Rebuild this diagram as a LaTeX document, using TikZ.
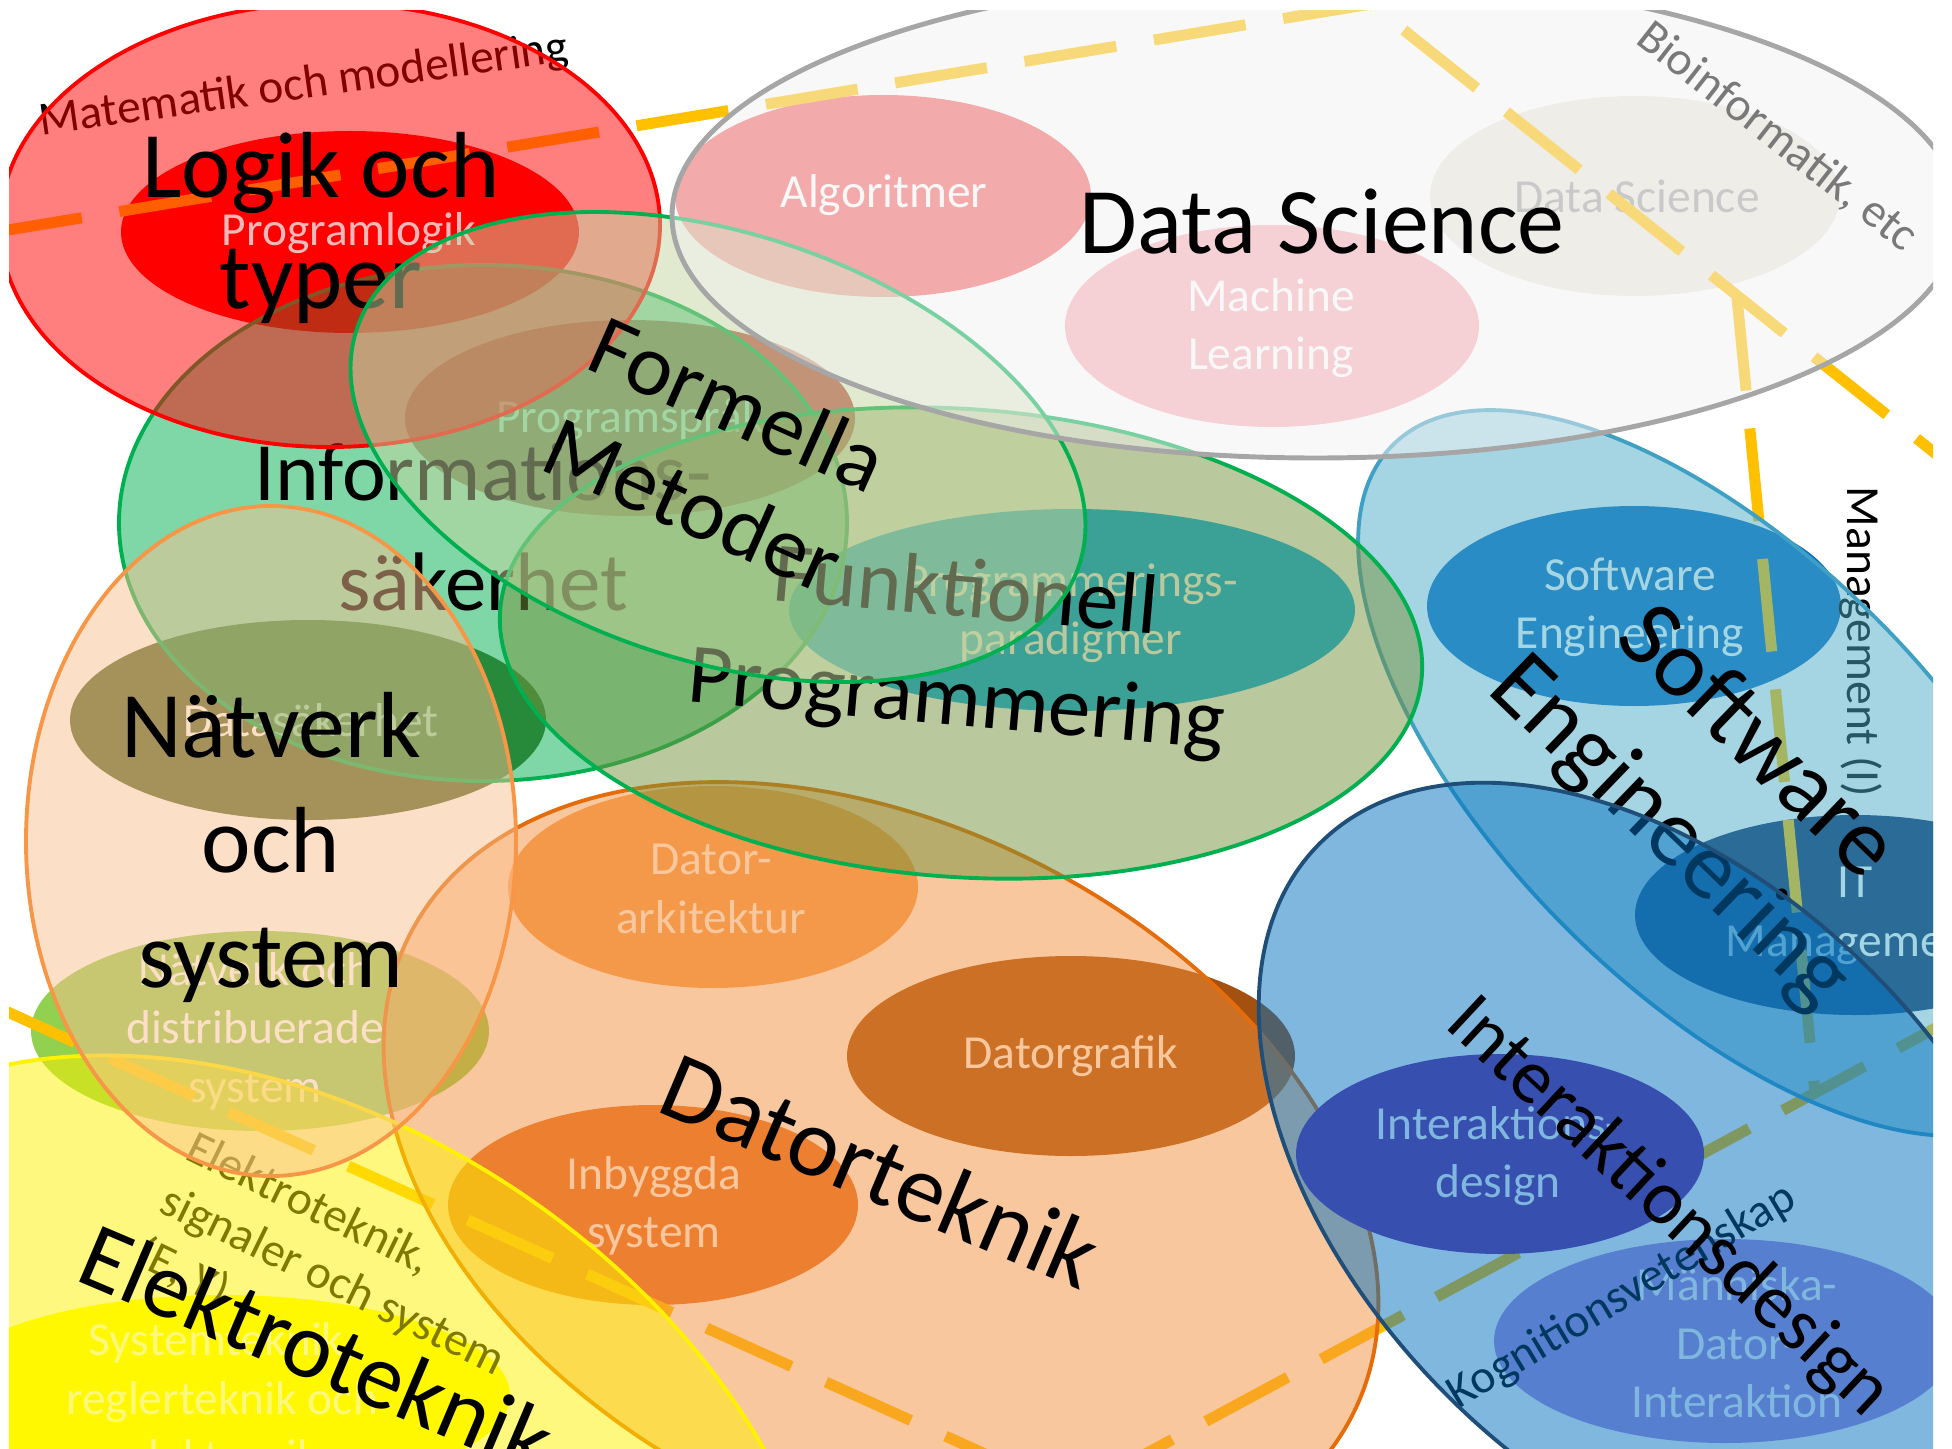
\documentclass[tikz,border=0pt]{standalone}
\usepackage{fontspec}
\setmainfont{Carlito}
\usetikzlibrary{positioning}

\definecolor{dashgold}{HTML}{FFC000}
\definecolor{plogik}{HTML}{FF0000}
\definecolor{sprak}{HTML}{C0504D}
\definecolor{datasak}{HTML}{506426}
\definecolor{natdist}{HTML}{92D050}
\definecolor{systek}{HTML}{FFFF00}
\definecolor{arkitekt}{HTML}{F6A45A}
\definecolor{grafik}{HTML}{A45010}
\definecolor{inbyggd}{HTML}{E47024}
\definecolor{algo}{HTML}{F66262}
\definecolor{mlearn}{HTML}{FAAEB6}
\definecolor{dssub}{HTML}{EAE8DE}
\definecolor{paradigm}{HTML}{00B0F0}
\definecolor{sesub}{HTML}{096CC2}
\definecolor{itmgmt}{HTML}{0A2A6A}
\definecolor{ixsub}{HTML}{7030A0}
\definecolor{mdi}{HTML}{B090E0}
\definecolor{infogreen}{HTML}{00B050}
\definecolor{formfill}{HTML}{C4D6A0}
\definecolor{funkfill}{HTML}{76923C}
\definecolor{dsfill}{HTML}{F2F2F2}
\definecolor{dsline}{HTML}{A6A6A6}
\definecolor{sefill}{HTML}{4BACC6}
\definecolor{seline}{HTML}{3FA0C4}
\definecolor{ixfill}{HTML}{0070C0}
\definecolor{ixline}{HTML}{1F4E79}
\definecolor{dtfill}{HTML}{F4903C}
\definecolor{dtline}{HTML}{E46C0A}
\definecolor{natfill}{HTML}{FAC090}
\definecolor{natline}{HTML}{F79646}

\begin{document}
\begin{tikzpicture}[x=0.01cm, y=-0.01cm,
	every node/.style={inner sep=0pt, align=center},
	sub/.style={text=white, font=\fontsize{13.5}{16.6}\selectfont},
	mid/.style={text=black, font=\fontsize{13.5}{16.6}\selectfont},
	big/.style={text=black, font=\fontsize{26.7}{32}\selectfont},
	field/.style={line width=1.1pt, fill opacity=0.5},
	border/.style={draw=dashgold, line width=0.11cm, dash pattern=on 0.93cm off 0.38cm}]

	\useasboundingbox (0,0) rectangle (1952,1449);
	\clip (9,11) rectangle (1933,1449);

	% inner areas
	\fill[plogik] (350,232) ellipse [x radius=229, y radius=101];
	\fill[sprak] (630,418) ellipse [x radius=225, y radius=98];
	\fill[datasak] (308,720) ellipse [x radius=238, y radius=100];
	\fill[natdist] (260,1031) ellipse [x radius=229, y radius=100];
	\fill[systek] (222,1395) ellipse [x radius=288, y radius=100];
	\fill[arkitekt] (713,887) ellipse [x radius=205, y radius=101];
	\fill[grafik] (1071,1056) ellipse [x radius=224, y radius=100];
	\fill[inbyggd] (653,1205) ellipse [x radius=205, y radius=100];
	\fill[algo] (883,196) ellipse [x radius=208, y radius=101];
	\fill[mlearn] (1272,326) ellipse [x radius=207, y radius=101];
	\fill[dssub] (1635,196) ellipse [x radius=205, y radius=100];
	\fill[paradigm] (1072,610) ellipse [x radius=283, y radius=101];
	\fill[sesub] (1634,606) ellipse [x radius=207, y radius=100];
	\fill[itmgmt] (1855,915) ellipse [x radius=220, y radius=100];

	\node[sub] (sprak) at (630,420) {Programspråk};
	\node[sub] (datasak) at (311,720) {Datasäkerhet};
	\node[sub] (natdist) at (255,1031) {Nätverk och\\distribuerade\\system};
	\node[sub] (systek) at (222,1398) {Systemteknik,\\reglerteknik och\\elektronik};
	\node[sub] (arkitekt) at (711,889) {Dator-\\arkitektur};
	\node[sub] (grafik) at (1071,1056) {Datorgrafik};
	\node[sub] (inbyggd) at (654,1206) {Inbyggda\\system};
	\node[sub] (algo) at (884,195) {Algoritmer};
	\node[sub] (mlearn) at (1271,328) {Machine\\Learning};
	\node[sub, text=black!37] (dssub) at (1637,196) {Data Science};
	\node[sub] (paradigm) at (1071,613) {Programmerings-\\paradigmer};
	\node[sub] (sesub) at (1630,607) {Software\\Engineering};
	\node[sub] (itmgmt) at (1855,916) {IT\\Management};

	% field borders
	\coordinate (top-w) at (-10,233);
	\coordinate (top-knee) at (1371,4);
	\coordinate (top-e) at (1980,489);
	\coordinate (mgmt-n) at (1737,298);
	\coordinate (mgmt-s) at (1815,1093);
	\coordinate (kogn-e) at (1980,1004);
	\coordinate (kogn-s) at (1060,1500);
	\coordinate (elsig-w) at (-10,1004);
	\coordinate (elsig-s) at (1100,1506);
	\draw[border] (top-w) -- (top-knee) -- (top-e);
	\draw[border] (mgmt-n) -- (mgmt-s);
	\draw[border] (kogn-e) -- (kogn-s);
	\draw[border] (elsig-w) -- (elsig-s);

	\node[mid, rotate=8] (matte) at (304,86) {Matematik och modellering};
	\node[mid, rotate=-38] (bio) at (1777,137) {Bioinformatik, etc};
	\node[mid, rotate=-90] (mgmt) at (1861,642) {Management (I)};
	\node[mid, rotate=-26, anchor=west, align=left] (elsig) at (163,1199) {Elektroteknik,\\signaler och system\\(E, Y)};

	% fields
	\draw[field, fill=infogreen, draw=infogreen] (483,523) ellipse [x radius=364, y radius=258];
	\node[big, font=\fontsize{23.6}{31.5}\selectfont] (infosak) at (483,527) {Informations-\\säkerhet};

	\draw[field, fill=dtfill, draw=dtline, rotate around={-27:(881,1175)}] (881,1175) ellipse [x radius=529, y radius=349];
	\node[big, rotate=-23, font=\fontsize{27.6}{33}\selectfont] (dator) at (881,1170) {Datorteknik};

	\draw[field, fill=yellow, draw=yellow, rotate around={-33:(290,1520)}] (290,1520) ellipse [x radius=590, y radius=400];
	\node[big, rotate=-23] (elektro) at (317,1348) {Elektroteknik};

	\draw[field, fill=natfill, draw=natline] (271,841) ellipse [x radius=245, y radius=335];
	\node[big, font=\fontsize{26.7}{32.7}\selectfont] (natverk) at (271,847) {Nätverk\\och\\system};

	\draw[field, fill=red, draw=red] (330,225) ellipse [x radius=330, y radius=222];
	\node[sub, text={rgb,255:red,244;green,184;blue,184}] (plogik) at (349,233) {Programlogik};
	\node[big, font=\fontsize{26.7}{31.5}\selectfont] (logik) at (321,228) {Logik och\\typer};

	\draw[field, fill=sefill, draw=seline, rotate around={-45:(1721,773)}] (1721,773) ellipse [x radius=464, y radius=219];
	\node[big, rotate=-44, font=\fontsize{27.3}{35.5}\selectfont] (se) at (1712,789) {Software\\Engineering};

	\fill[ixsub] (1500,1154) ellipse [x radius=204, y radius=100];
	\fill[mdi] (1725,1341) ellipse [x radius=231, y radius=102];
	\node[sub] (ixsub) at (1498,1156) {Interaktions-\\design};
	\node[sub] (mdi) at (1737,1343) {Människa-\\Dator-\\Interaktion};
	\node[mid, rotate=31] (kogn) at (1622,1297) {Kognitionsvetenskap};
	\draw[field, fill=ixfill, draw=ixline, rotate around={-45:(1659,1183)}] (1659,1183) ellipse [x radius=480, y radius=300];
	\node[big, rotate=-43, font=\fontsize{21.9}{26}\selectfont] (ixd) at (1668,1208) {Interaktionsdesign};

	\draw[field, fill=funkfill, draw=infogreen, rotate around={-4:(961,643)}] (961,643) ellipse [x radius=462, y radius=234];
	\node[big, rotate=-5, font=\fontsize{24.2}{30.8}\selectfont] (funk) at (961,649) {Funktionell\\Programmering};

	\draw[field, fill=formfill, draw=infogreen, rotate around={-18:(718,447)}] (718,447) ellipse [x radius=380, y radius=214];
	\node[big, rotate=-24, font=\fontsize{25}{31.3}\selectfont] (formella) at (716,454) {Formella\\Metoder};

	\draw[field, fill=dsfill, draw=dsline, line width=1.4pt] (1316,216) ellipse [x radius=644, y radius=242];
	\node[big] (ds) at (1322,222) {Data Science};
\end{tikzpicture}
\end{document}
